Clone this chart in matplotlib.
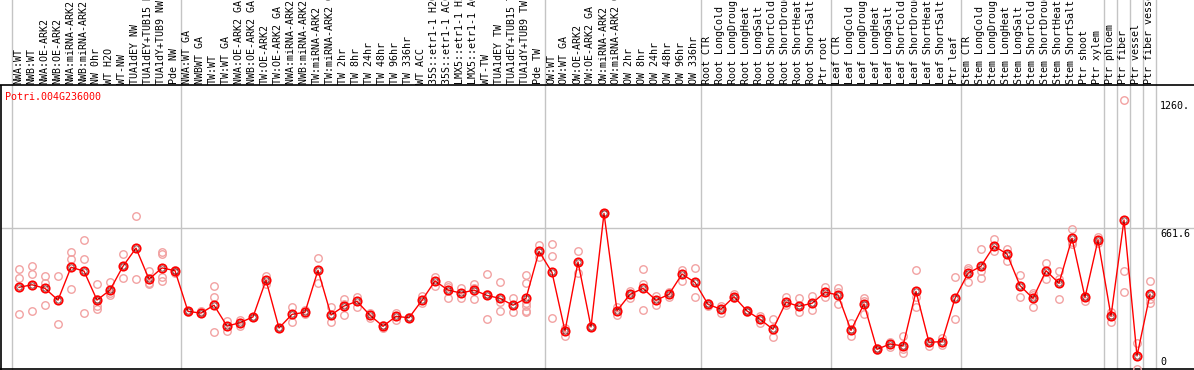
import numpy as np
import matplotlib
matplotlib.use("Agg")
import matplotlib.pyplot as plt

# sample names, left to right
samples = [
    "NWA:WT", "NWB:WT", "NWA:OE-ARK2", "NWB:OE-ARK2", "NWA:miRNA-ARK2",
    "NWB:miRNA-ARK2", "NW 0hr", "WT H2O", "WT-NW", "TUA1dEY NW",
    "TUA1dEY+TUB15 NW", "TUA1dY+TUB9 NW", "Pde NW",
    "NWA:WT GA", "NWBWT GA", "TW:WT", "TW:WT GA", "NWA:OE-ARK2 GA",
    "NWB:OE-ARK2 GA", "TW:OE-ARK2", "TW:OE-ARK2 GA", "NWA:miRNA-ARK2 GA",
    "NWB:miRNA-ARK2 GA", "TW:miRNA-ARK2", "TW:miRNA-ARK2 GA", "TW 2hr",
    "TW 8hr", "TW 24hr", "TW 48hr", "TW 96hr", "TW 336hr", "WT ACC",
    "35S::etr1-1 H2O", "35S::etr1-1 ACC", "LMX5::etr1-1 H2O",
    "LMX5::etr1-1 ACC", "WT-TW", "TUA1dEY TW", "TUA1dEY+TUB15 TW",
    "TUA1dY+TUB9 TW", "Pde TW",
    "OW:WT", "OW:WT GA", "OW:OE-ARK2", "OW:OE-ARK2 GA", "OW:miRNA-ARK2",
    "OW:miRNA-ARK2 GA", "OW 2hr", "OW 8hr", "OW 24hr", "OW 48hr", "OW 96hr",
    "OW 336hr",
    "Root CTR", "Root LongCold", "Root LongDrought", "Root LongHeat",
    "Root LongSalt", "Root ShortCold", "Root ShortDrought", "Root ShortHeat",
    "Root ShortSalt", "Ptr root",
    "Leaf CTR", "Leaf LongCold", "Leaf LongDrought", "Leaf LongHeat",
    "Leaf LongSalt", "Leaf ShortCold", "Leaf ShortDrought", "Leaf ShortHeat",
    "Leaf ShortSalt", "Ptr leaf",
    "Stem CTR", "Stem LongCold", "Stem LongDrought", "Stem LongHeat",
    "Stem LongSalt", "Stem ShortCold", "Stem ShortDrought", "Stem ShortHeat",
    "Stem ShortSalt", "Ptr shoot",
    "Ptr xylem", "Ptr phloem", "Ptr fiber", "Ptr vessel", "Ptr fiber vessel",
]

# mean expression per sample
means = [
    381, 393, 376, 321, 475, 457, 321, 368, 480, 565, 419, 472, 459,
    268, 260, 297, 199, 215, 242, 415, 190, 254, 264, 461, 251, 293, 315,
    250, 198, 245, 238, 320, 411, 368, 354, 368, 343, 329, 297, 329, 550,
    451, 176, 500, 195, 728, 271, 348, 376, 320, 348, 443, 404,
    301, 278, 337, 270, 231, 184, 311, 292, 306, 358,
    345, 179, 303, 90, 115, 106, 362, 123, 126, 329,
    447, 480, 575, 537, 389, 329, 459, 400, 611, 334,
    603, 246, 697, 59, 348,
]

# replicate values per sample
reps = [
    [466, 423, 254], [481, 442, 270], [433, 400, 297], [433, 207],
    [545, 512, 372], [602, 512, 259], [395, 326, 295, 278], [406, 343, 352],
    [536, 480, 426], [714, 419], [457, 402, 398], [545, 536, 428, 411],
    [464, 454, 447],
    [271, 265], [270, 259], [386, 336, 170], [223, 175], [228, 199],
    [240, 244], [435, 395], [188, 192], [289, 217], [275, 255], [517, 400],
    [287, 217], [326, 250, 303], [337, 290], [259, 238], [206, 192],
    [262, 228], [236, 240], [340, 306], [431, 387], [390, 332, 382],
    [378, 332], [398, 326, 380], [443, 231, 350], [406, 270, 311],
    [329, 264], [439, 400, 306, 271, 264, 295], [580, 525],
    [584, 528, 236], [192, 154], [551, 447], [193, 197], [726, 730],
    [290, 252], [365, 329], [466, 397, 275], [340, 298], [360, 337],
    [462, 412], [470, 337],
    [306, 293], [293, 259], [350, 329], [275, 264], [248, 212], [231, 146],
    [334, 298], [329, 264], [342, 275], [381, 334],
    [376, 360, 301], [215, 154], [329, 318, 254], [85, 95], [126, 99],
    [153, 74, 92], [462, 287, 337], [130, 107], [142, 110], [428, 231],
    [473, 405, 463], [559, 423, 458], [606, 553], [559, 506], [439, 334],
    [353, 287, 347], [496, 422], [457, 325, 418], [655, 595, 583],
    [340, 318],
    [618, 588], [267, 220], [456, 358, 1260], [118, 0], [411, 306, 328],
]

group_ends = [-1, 12, 40, 52, 62, 72, 83, 84, 85, 86, 87]
gene = "Potri.004G236000"
ytick_vals = [1260, 661.6, 0]
ytick_text = ["1260.", "661.6", "0"]

W, H = 1194, 370
fig = plt.figure(figsize=(W / 100, H / 100), dpi=100)
ax = fig.add_axes([0, 0, 1, 1])
ax.set_axis_off()

# pixel layout of the original: column i sits at 19 + 13*i px, value v at 368.5 - 0.2131*v px
x0, dx = 19.0, 13.0
y0, k = 368.5, 0.2131
ax.set_xlim((0 - x0) / dx, (W - x0) / dx)
ax.set_ylim((y0 - H) / k, y0 / k)

def vpx(py):
    return (y0 - py) / k

def xpx(px):
    return (px - x0) / dx

mono = "DejaVu Sans Mono"
fs = 7.2
grey = "#c4c4c4"

# frame
ax.axhline(vpx(85), color="black", lw=1.2)
ax.axhline(vpx(369), color="black", lw=1.2)
ax.vlines(xpx(1.5), vpx(370), vpx(85), color="black", lw=1.2)

# group separators and grid line
for g in group_ends:
    ax.axvline(g + 0.45, color=grey, lw=1, zorder=0)
ax.hlines(661.6, xpx(1.5), xpx(W), color=grey, lw=1, zorder=0)

# replicates
for i, r in enumerate(reps):
    ax.plot([i] * len(r), r, "o", ms=5.4, mfc="none", mec="#f2a2a2",
            mew=1.0, clip_on=False, zorder=2)

# means
xs = np.arange(len(means))
ax.plot(xs, means, "-", color="red", lw=1, zorder=3)
ax.plot(xs, means, "o", ms=6.0, mfc="none", mec="red", mew=1.3, zorder=4)
ax.plot(xs, means, "o", ms=3.8, mfc="none", mec="#500000", mew=0.45, zorder=5)

# sample labels (long ones run off the top, as in the original)
for i, s in enumerate(samples):
    ax.text(i - 0.08, vpx(83.5), s, rotation=90, ha="center", va="bottom",
            family=mono, fontsize=fs, color="black")

# gene id and value labels
fig.text(5 / W, 1 - 97 / H, gene, family=mono, fontsize=fs, color="red",
         ha="left", va="center")
for v, t in zip(ytick_vals, ytick_text):
    py = y0 - k * v
    if v == 0:
        fig.text(1160 / W, 1 - 367 / H, t, family=mono, fontsize=fs,
                 ha="left", va="bottom")
    else:
        fig.text(1160 / W, 1 - (py + 1) / H, t, family=mono, fontsize=fs,
                 ha="left", va="top")

fig.savefig("out.png", dpi=100)
